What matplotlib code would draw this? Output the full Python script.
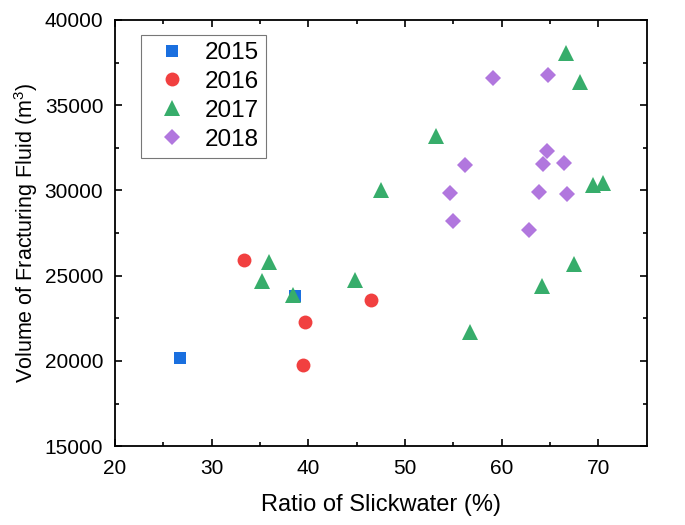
import numpy as np
import matplotlib
matplotlib.use("Agg")
import matplotlib.pyplot as plt

plt.rcParams['font.family'] = ['Liberation Sans', 'DejaVu Sans']
plt.rcParams['mathtext.fontset'] = 'custom'
plt.rcParams['mathtext.rm'] = 'Liberation Sans'

# Data
x2015 = [26.7, 38.6]
y2015 = [20150, 23800]

x2016 = [33.3, 46.5, 39.7, 39.4]
y2016 = [25920, 23580, 22300, 19770]

x2017 = [35.9, 35.2, 38.4, 44.8, 56.7, 66.7, 68.1, 53.2, 47.5, 69.4, 70.5, 67.5, 64.2]
y2017 = [25820, 24670, 23870, 24750, 21720, 38080, 36390, 33200, 30020, 30330, 30410, 25690, 24380]

x2018 = [59.1, 64.8, 64.7, 64.3, 66.4, 56.2, 54.7, 63.9, 66.8, 55.0, 62.8]
y2018 = [36620, 36760, 32320, 31540, 31600, 31490, 29850, 29920, 29820, 28220, 27700]

series = [
    ("2015", x2015, y2015, 's', "#1A6FDF", 9.2),
    ("2016", x2016, y2016, 'o', "#F14040", 10.0),
    ("2017", x2017, y2017, '^', "#37AD6B", 11.5),
    ("2018", x2018, y2018, 'D', "#B177DE", 8.6),
]

fig = plt.figure(figsize=(6.85, 5.25), dpi=100)
ax = fig.add_axes([0.168, 0.150, 0.776, 0.812])

for label, xs, ys, m, c, ms in series:
    ax.plot(xs, ys, linestyle='none', marker=m, color=c, markersize=ms,
            markeredgewidth=0, label=label)

ax.set_xlim(20, 75)
ax.set_ylim(15000, 40000)
ax.set_xticks([20, 30, 40, 50, 60, 70])
ax.set_xticks(np.arange(25, 75, 10), minor=True)
ax.set_yticks(np.arange(15000, 40001, 5000))
ax.set_yticks(np.arange(17500, 40000, 5000), minor=True)

ax.tick_params(which='both', direction='in', top=True, right=True,
               labelsize=15, width=1.2)
ax.tick_params(axis='x', which='both', pad=9)
ax.tick_params(axis='y', which='both', pad=8.5)
ax.tick_params(which='major', length=5)
ax.tick_params(which='minor', length=3)
for s in ax.spines.values():
    s.set_linewidth(1.3)

ax.set_xlabel("Ratio of Slickwater (%)", fontsize=17, labelpad=12)
ax.set_ylabel("Volume of Fracturing Fluid (m$^3$)", fontsize=15.5, labelpad=3)

leg = ax.legend(loc='upper left', bbox_to_anchor=(0.049, 0.965), fontsize=17.5,
                frameon=True, fancybox=False, edgecolor='#555555',
                handletextpad=0.37, borderpad=0.3, labelspacing=0.28,
                handlelength=1.95, borderaxespad=0)
leg.get_frame().set_linewidth(0.8)

fig.savefig("out.png", dpi=100)
